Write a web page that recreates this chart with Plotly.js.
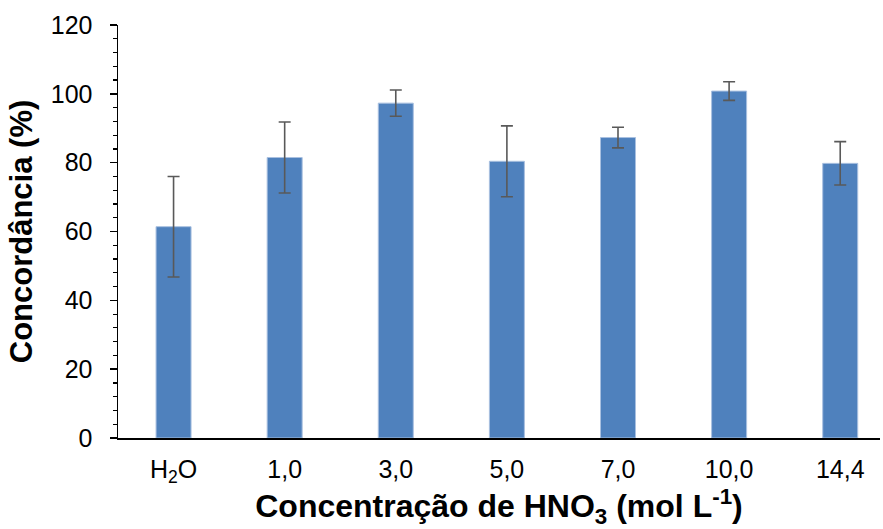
<!DOCTYPE html>
<html>
<head>
<meta charset="utf-8">
<script src="https://cdn.plot.ly/plotly-3.0.1.min.js"></script>
<style>html,body{margin:0;padding:0;background:#fff;}#chart{width:883px;height:529px;}</style>
</head>
<body>
<div id="chart"></div>
<script>
const categories = ['H2O', '1,0', '3,0', '5,0', '7,0', '10,0', '14,4'];
const tickLabels = ['H<sub>2</sub>O', '1,0', '3,0', '5,0', '7,0', '10,0', '14,4'];
const concordance = [61.4, 81.5, 97.3, 80.4, 87.3, 100.8, 79.8];
const errors = [14.6, 10.3, 3.8, 10.3, 3.0, 2.7, 6.3];
const yTickVals = [0, 20, 40, 60, 80, 100, 120];

const trace = {
  type: 'bar',
  x: categories,
  y: concordance,
  width: 0.315,
  marker: { color: '#4F81BD', line: { color: '#A9C0E0', width: 1 } },
  error_y: { type: 'data', array: errors, visible: true, color: '#595959', thickness: 1.6, width: 6 },
  hoverinfo: 'none'
};

const layout = {
  width: 883,
  height: 529,
  margin: { l: 118, r: 3, t: 25, b: 91 },
  paper_bgcolor: '#ffffff',
  plot_bgcolor: '#ffffff',
  showlegend: false,
  font: { family: 'Liberation Sans, Arial, sans-serif', color: '#000000' },
  xaxis: {
    type: 'category',
    range: [-0.5, 6.358],
    tickvals: categories,
    ticktext: tickLabels,
    ticks: '',
    showline: true,
    linecolor: '#000000',
    linewidth: 1.5,
    showgrid: false,
    zeroline: false,
    tickfont: { size: 25, family: 'Liberation Sans, Arial, sans-serif' },
    ticklabelstandoff: 8,
    title: {
      text: '<b>Concentração de HNO<sub>3</sub> (mol L<sup>-1</sup>)</b>',
      font: { size: 32, family: 'Liberation Sans, Arial, sans-serif' },
      standoff: 13
    }
  },
  yaxis: {
    range: [0, 120],
    tickvals: yTickVals,
    ticks: 'outside',
    ticklen: 7,
    tickwidth: 1.5,
    tickcolor: '#000000',
    showline: true,
    linecolor: '#000000',
    linewidth: 1.5,
    showgrid: false,
    zeroline: false,
    tickfont: { size: 25, family: 'Liberation Sans, Arial, sans-serif' },
    ticklabelstandoff: 12,
    minor: { dtick: 4, ticks: 'outside', ticklen: 4, tickwidth: 1.2, tickcolor: '#000000', showgrid: false },
    title: {
      text: '<b>Concordância (%)</b>',
      font: { size: 31, family: 'Liberation Sans, Arial, sans-serif' },
      standoff: 9
    }
  }
};

Plotly.newPlot('chart', [trace], layout, { staticPlot: true, displayModeBar: false });
</script>
</body>
</html>
